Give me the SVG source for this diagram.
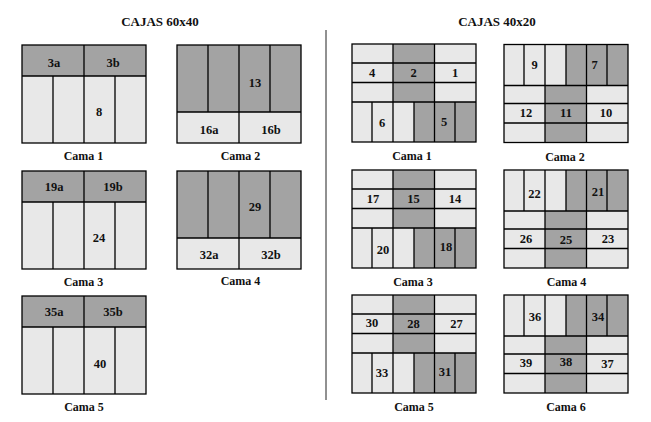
<svg xmlns="http://www.w3.org/2000/svg" xmlns:xlink="http://www.w3.org/1999/xlink" width="651" height="422" viewBox="0 0 651 422">
<style>
.dk{fill:#a3a3a3}
.lt{fill:#e8e8e8}
.ln{stroke:#000;stroke-width:1.3;fill:none}
text{font-family:"Liberation Serif","Times New Roman",serif;font-weight:bold;fill:#111;text-anchor:middle}
.n{font-size:12.5px}
.c{font-size:12px}
.t{font-size:13px}
</style>
<defs>
<g id="L1">
<rect class="dk" x="0" y="0" width="124" height="31"/>
<rect class="lt" x="0" y="31" width="124" height="67"/>
<path class="ln" d="M62 0V98M31 31V98M93 31V98M0 31H124"/>
<rect class="ln" x="0" y="0" width="124" height="98"/>
</g>
<g id="L2">
<rect class="dk" x="0" y="0" width="124" height="67"/>
<rect class="lt" x="0" y="67" width="124" height="31"/>
<path class="ln" d="M62 0V98M31 0V67M93 0V67M0 67H124"/>
<rect class="ln" x="0" y="0" width="124" height="98"/>
</g>
<g id="R1">
<rect class="lt" x="0" y="0" width="124" height="98"/>
<rect class="dk" x="41" y="0" width="41.5" height="58"/>
<rect class="dk" x="62" y="58" width="62" height="40"/>
<path class="ln" d="M0 19H124M0 38.5H124M0 58H124M41 0V58M82.5 0V58M20 58V98M41 58V98M62 58V98M82.5 58V98M103 58V98"/>
<rect class="ln" x="0" y="0" width="124" height="98"/>
</g>
<g id="R2">
<rect class="lt" x="0" y="0" width="124" height="98"/>
<rect class="dk" x="62" y="0" width="62" height="41"/>
<rect class="dk" x="41" y="41" width="41.5" height="57"/>
<path class="ln" d="M20 0V41M41 0V41M62 0V41M82.5 0V41M103 0V41M0 41H124M0 59H124M0 78.5H124M41 41V98M82.5 41V98"/>
<rect class="ln" x="0" y="0" width="124" height="98"/>
</g>
</defs>
<rect x="0" y="0" width="651" height="422" fill="#fff"/>
<g id="titles">
<text class="t" x="160" y="26">CAJAS 60x40</text>
<text class="t" x="497" y="26">CAJAS 40x20</text>
</g>
<g id="connectors">
<line x1="326" y1="30" x2="326" y2="400" stroke="#222" stroke-width="1"/>
</g>
<g id="l-cama1">
<use xlink:href="#L1" href="#L1" x="22" y="45"/>
<text class="n" x="54" y="67">3a</text><text class="n" x="113" y="67">3b</text><text class="n" x="99" y="115.5">8</text>
<text class="c" x="83.5" y="160">Cama 1</text>
</g>
<g id="l-cama2">
<use xlink:href="#L2" href="#L2" x="177" y="45"/>
<text class="n" x="255" y="86.5">13</text><text class="n" x="209" y="133.5">16a</text><text class="n" x="271" y="133.5">16b</text>
<text class="c" x="240.5" y="160">Cama 2</text>
</g>
<g id="l-cama3">
<use xlink:href="#L1" href="#L1" x="22" y="171"/>
<text class="n" x="54" y="191">19a</text><text class="n" x="113" y="191">19b</text><text class="n" x="99" y="242">24</text>
<text class="c" x="83.5" y="286">Cama 3</text>
</g>
<g id="l-cama4">
<use xlink:href="#L2" href="#L2" x="177" y="171"/>
<text class="n" x="255" y="211">29</text><text class="n" x="209" y="259">32a</text><text class="n" x="271" y="259">32b</text>
<text class="c" x="240.5" y="285">Cama 4</text>
</g>
<g id="l-cama5">
<use xlink:href="#L1" href="#L1" x="22" y="296"/>
<text class="n" x="54" y="316">35a</text><text class="n" x="113" y="316">35b</text><text class="n" x="100" y="368">40</text>
<text class="c" x="84" y="411">Cama 5</text>
</g>
<g id="r-cama1">
<use xlink:href="#R1" href="#R1" x="352" y="44"/>
<text class="n" x="372" y="77">4</text><text class="n" x="413.5" y="77">2</text><text class="n" x="455" y="77">1</text>
<text class="n" x="382" y="127">6</text><text class="n" x="444" y="126">5</text>
<text class="c" x="412" y="160">Cama 1</text>
</g>
<g id="r-cama2">
<use xlink:href="#R2" href="#R2" x="504" y="44.5"/>
<text class="n" x="534.5" y="69">9</text><text class="n" x="594.5" y="68.5">7</text>
<text class="n" x="526" y="117">12</text><text class="n" x="566" y="117">11</text><text class="n" x="606" y="117">10</text>
<text class="c" x="565" y="161">Cama 2</text>
</g>
<g id="r-cama3">
<use xlink:href="#R1" href="#R1" x="352" y="170"/>
<text class="n" x="373" y="202.5">17</text><text class="n" x="413.5" y="202.5">15</text><text class="n" x="455" y="202.5">14</text>
<text class="n" x="383" y="254">20</text><text class="n" x="446" y="251">18</text>
<text class="c" x="413" y="286">Cama 3</text>
</g>
<g id="r-cama4">
<use xlink:href="#R2" href="#R2" x="504" y="170"/>
<text class="n" x="534.5" y="197.5">22</text><text class="n" x="598" y="196">21</text>
<text class="n" x="526" y="242.5">26</text><text class="n" x="566" y="244">25</text><text class="n" x="608" y="242.5">23</text>
<text class="c" x="566.5" y="286">Cama 4</text>
</g>
<g id="r-cama5">
<use xlink:href="#R1" href="#R1" x="352" y="295"/>
<text class="n" x="372" y="327">30</text><text class="n" x="413.5" y="327.5">28</text><text class="n" x="456.5" y="327.5">27</text>
<text class="n" x="382" y="377">33</text><text class="n" x="445" y="376">31</text>
<text class="c" x="414" y="411">Cama 5</text>
</g>
<g id="r-cama6">
<use xlink:href="#R2" href="#R2" x="504" y="295"/>
<text class="n" x="535" y="321">36</text><text class="n" x="598" y="321">34</text>
<text class="n" x="526" y="367">39</text><text class="n" x="566" y="366">38</text><text class="n" x="607.5" y="367.5">37</text>
<text class="c" x="566" y="411">Cama 6</text>
</g>
</svg>
